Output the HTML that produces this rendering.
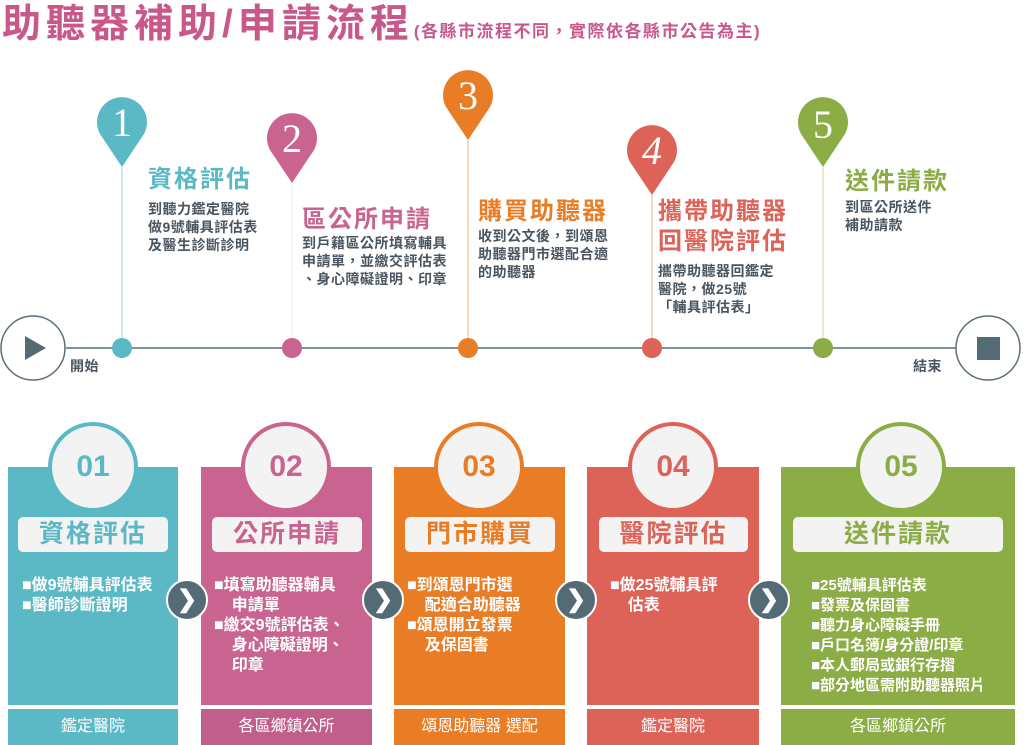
<!DOCTYPE html>
<html><head><meta charset="utf-8"><style>
body{margin:0;width:1024px;height:745px;background:#fff;position:relative;overflow:hidden;font-family:"Liberation Sans","Noto Sans CJK TC",sans-serif;font-weight:bold}
.a{position:absolute;white-space:nowrap}
.t{font-size:24px;line-height:30px;letter-spacing:2px}
.b{font-size:14px;line-height:18px;color:#4a5560;letter-spacing:0.5px}
.card{position:absolute;top:467px;height:238px}
.foot{position:absolute;top:709px;height:36px;color:#fff;font-weight:normal;font-size:16px;text-align:center;line-height:36px}
.circ{position:absolute;top:422px;width:82px;height:82px;border-radius:50%;background:#f3f3f3;border:4px solid;text-align:center;line-height:82px;font-size:30px}
.lbl{position:absolute;top:517px;height:35px;background:#f3f3f3;border-radius:5px;text-align:center;line-height:35px;font-size:25px;letter-spacing:2px}
.body{position:absolute;top:576px;color:#fff;font-size:16px;line-height:20px}
.arr{position:absolute;top:579px;width:38px;height:38px;border-radius:50%;background:#546b76;border:2px solid #fff;color:#fff;text-align:center;line-height:38px;font-size:24px}
</style></head><body>
<div class="a" style="left:2px;top:2px;font-size:39px;color:#c8588a;line-height:46px;letter-spacing:5px">助聽器補助/申請流程<span style="font-size:17px;letter-spacing:1.5px">(各縣市流程不同，實際依各縣市公告為主)</span></div>
<svg class="a" style="left:0;top:0" width="1024" height="400">
<line x1="66" y1="348" x2="956" y2="348" stroke="#5a6e78" stroke-width="1.5"/>
<circle cx="33" cy="348" r="32" fill="#fff" stroke="#5a6e78" stroke-width="1.5"/>
<polygon points="25,336 25,360 46,348" fill="#546b76"/>
<circle cx="988" cy="348" r="32" fill="#fff" stroke="#5a6e78" stroke-width="1.5"/>
<rect x="977" y="337" width="23" height="23" fill="#546b76"/>
<g font-family="Liberation Serif,serif" font-size="40" fill="#fff" text-anchor="middle" font-weight="normal">
<line x1="122" y1="167" x2="122" y2="348" stroke="#9fd3db"/>
<path d="M100,134 A25,25 0 1 1 144,134 L122,167 Z" fill="#5bb9c6"/><circle cx="122" cy="348" r="10" fill="#5bb9c6"/><text x="122" y="136">1</text>
<line x1="292" y1="183" x2="292" y2="348" stroke="#eee"/>
<path d="M270,150 A25,25 0 1 1 314,150 L292,183 Z" fill="#c8648f"/><circle cx="292" cy="348" r="10" fill="#c8648f"/><text x="292" y="152">2</text>
<line x1="468" y1="140" x2="468" y2="348" stroke="#f5b57a"/>
<path d="M446,107 A25,25 0 1 1 490,107 L468,140 Z" fill="#e87d26"/><circle cx="468" cy="348" r="10" fill="#e87d26"/><text x="468" y="109">3</text>
<line x1="652" y1="195" x2="652" y2="348" stroke="#f0a8a2"/>
<path d="M630,162 A25,25 0 1 1 674,162 L652,195 Z" fill="#dd6258"/><circle cx="652" cy="348" r="10" fill="#dd6258"/><text x="652" y="164" font-style="italic">4</text>
<line x1="823" y1="167" x2="823" y2="348" stroke="#c9d6a8"/>
<path d="M801,134 A25,25 0 1 1 845,134 L823,167 Z" fill="#8cac45"/><circle cx="823" cy="348" r="10" fill="#8cac45"/><text x="823" y="138">5</text>
</g>
</svg>
<div class="a b" style="left:70px;top:357px">開始</div>
<div class="a b" style="left:913px;top:357px">結束</div>
<div class="a t" style="left:148px;top:165px;color:#5bb9c6">資格評估</div>
<div class="a b" style="left:148px;top:200px">到聽力鑑定醫院<br>做9號輔具評估表<br>及醫生診斷診明</div>
<div class="a t" style="left:302px;top:205px;color:#c8648f">區公所申請</div>
<div class="a b" style="left:302px;top:234px">到戶籍區公所填寫輔具<br>申請單，並繳交評估表<br>、身心障礙證明、印章</div>
<div class="a t" style="left:478px;top:197px;color:#e87d26">購買助聽器</div>
<div class="a b" style="left:478px;top:227px">收到公文後，到頌恩<br>助聽器門市選配合適<br>的助聽器</div>
<div class="a t" style="left:658px;top:197px;color:#dd6258">攜帶助聽器<br>回醫院評估</div>
<div class="a b" style="left:658px;top:262px">攜帶助聽器回鑑定<br>醫院，做25號<br>「輔具評估表」</div>
<div class="a t" style="left:845px;top:167px;color:#8cac45">送件請款</div>
<div class="a b" style="left:845px;top:198px">到區公所送件<br>補助請款</div>

<div class="card" style="left:8px;width:170px;background:#5bb9c6"></div>
<div class="foot" style="left:8px;width:170px;background:#5bb9c6">鑑定醫院</div>
<div class="circ" style="left:48px;border-color:#5bb9c6;color:#5bb9c6">01</div>
<div class="lbl" style="left:18px;width:150px;color:#5bb9c6">資格評估</div>
<div class="a body" style="left:22px">■做9號輔具評估表<br>■醫師診斷證明</div>

<div class="card" style="left:201px;width:171px;background:#c8648f"></div>
<div class="foot" style="left:201px;width:171px;background:#c0608a">各區鄉鎮公所</div>
<div class="circ" style="left:241px;border-color:#c8648f;color:#c8648f">02</div>
<div class="lbl" style="left:212px;width:150px;color:#c8648f">公所申請</div>
<div class="a body" style="left:214px">■填寫助聽器輔具<br>&nbsp;&nbsp;&nbsp;&nbsp;申請單<br>■繳交9號評估表、<br>&nbsp;&nbsp;&nbsp;&nbsp;身心障礙證明、<br>&nbsp;&nbsp;&nbsp;&nbsp;印章</div>

<div class="card" style="left:394px;width:171px;background:#e87d26"></div>
<div class="foot" style="left:394px;width:171px;background:#e87d26">頌恩助聽器 選配</div>
<div class="circ" style="left:434px;border-color:#e87d26;color:#e87d26">03</div>
<div class="lbl" style="left:405px;width:150px;color:#e87d26">門市購買</div>
<div class="a body" style="left:407px">■到頌恩門市選<br>&nbsp;&nbsp;&nbsp;&nbsp;配適合助聽器<br>■頌恩開立發票<br>&nbsp;&nbsp;&nbsp;&nbsp;及保固書</div>

<div class="card" style="left:587px;width:172px;background:#dd6258"></div>
<div class="foot" style="left:587px;width:172px;background:#dd6258">鑑定醫院</div>
<div class="circ" style="left:628px;border-color:#dd6258;color:#dd6258">04</div>
<div class="lbl" style="left:599px;width:149px;color:#dd6258">醫院評估</div>
<div class="a body" style="left:610px">■做25號輔具評<br>&nbsp;&nbsp;&nbsp;&nbsp;估表</div>

<div class="card" style="left:781px;width:234px;background:#8cac45"></div>
<div class="foot" style="left:781px;width:234px;background:#8cac45">各區鄉鎮公所</div>
<div class="circ" style="left:856px;border-color:#8cac45;color:#8cac45">05</div>
<div class="lbl" style="left:793px;width:210px;color:#8cac45">送件請款</div>
<div class="a body" style="left:811px;font-size:15px">■25號輔具評估表<br>■發票及保固書<br>■聽力身心障礙手冊<br>■戶口名簿/身分證/印章<br>■本人郵局或銀行存摺<br>■部分地區需附助聽器照片</div>

<div class="arr" style="left:166px">❯</div>
<div class="arr" style="left:362px">❯</div>
<div class="arr" style="left:555px">❯</div>
<div class="arr" style="left:748px">❯</div>
</body></html>
